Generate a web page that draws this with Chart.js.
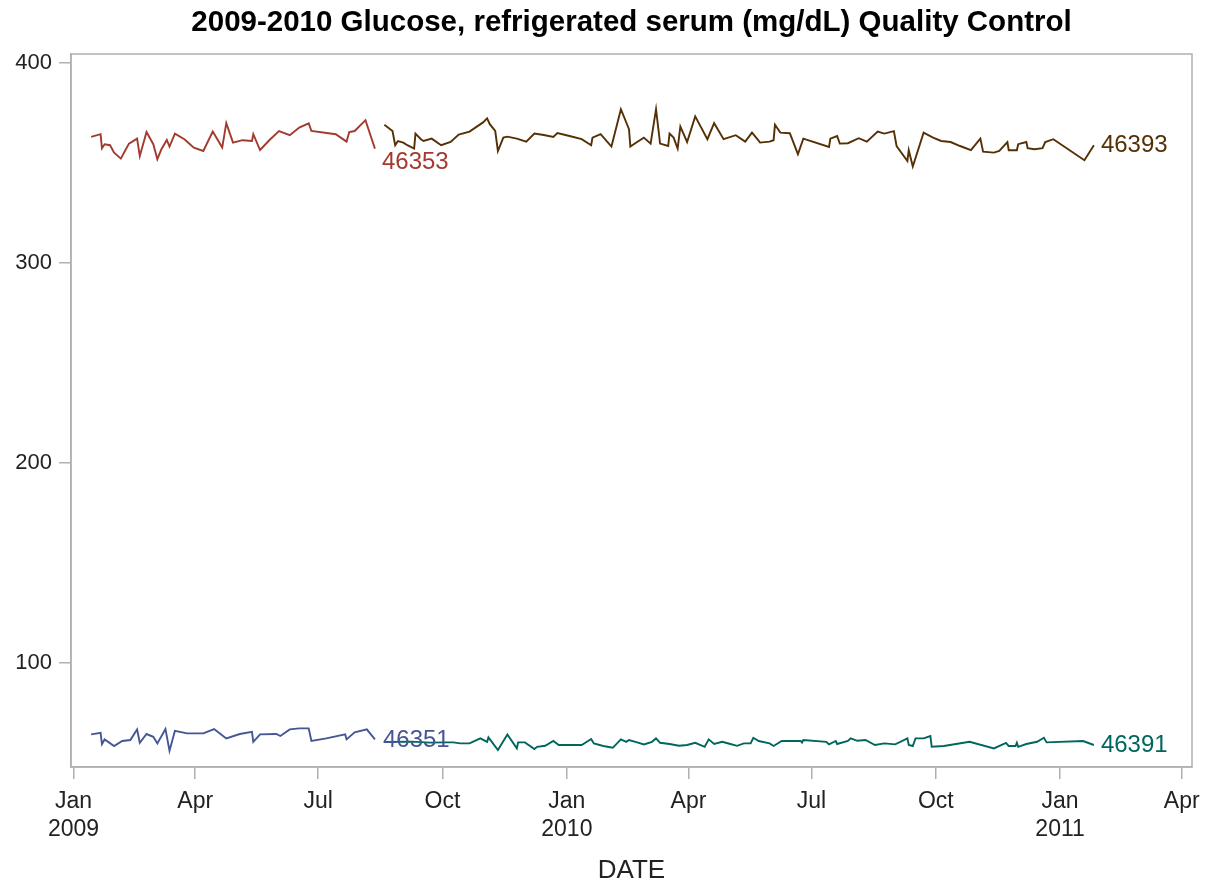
<!DOCTYPE html>
<html>
<head>
<meta charset="utf-8">
<script src="https://cdn.jsdelivr.net/npm/chart.js@4.4.1/dist/chart.umd.min.js"></script>
<style>
  html, body { margin: 0; padding: 0; background: #ffffff; }
  #wrap { width: 1211px; height: 886px; }
</style>
</head>
<body>
<div id="wrap"><canvas id="c" width="1211" height="886"></canvas></div>
<script>
// Day numbers are days since 2009-01-01
const chartTitle = '2009-2010 Glucose, refrigerated serum (mg/dL) Quality Control';
const xAxisTitle = 'DATE';

const tickDays   = [0, 90, 181, 273, 365, 455, 546, 638, 730, 820];
const tickLabels = [['Jan','2009'], 'Apr', 'Jul', 'Oct', ['Jan','2010'], 'Apr', 'Jul', 'Oct', ['Jan','2011'], 'Apr'];
const yTicks     = [100, 200, 300, 400];

const seriesNames = ['46351', '46353', '46391', '46393'];

const days46353 = [13,20,21,23,27,30,35,38,41,47,49,54,59,62,65,69,71,75,82,89,96,103,110,113,118,125,132,133,138,145,152,160,167,174,176,194,202,204,208,216,223];
const glucose46353 = [362.9,364.2,357.2,359.2,358.7,355.0,352.0,355.8,359.5,362.0,353.3,365.3,359.2,351.7,356.7,361.3,358.0,364.5,361.7,357.5,355.8,365.5,357.5,369.7,360.0,361.2,360.8,364.2,356.3,361.3,365.8,363.7,367.5,369.6,365.8,364.2,360.5,365.3,365.8,371.2,357.0];

const days46351 = [13,20,21,23,30,36,42,47,49,54,59,62,68,71,75,84,96,104,113,123,132,133,138,150,153,160,167,174,176,187,201,202,208,217,223];
const glucose46351 = [64.1,64.9,59.3,61.6,58.3,60.8,61.3,66.6,59.9,64.3,62.9,59.6,66.8,55.9,65.9,64.6,64.6,66.8,62.1,64.3,65.4,60.4,64.1,64.3,63.3,66.6,67.1,67.1,60.8,62.1,64.1,61.6,65.1,66.6,61.6];

const days46393 = [230,236,238,240,244,247,252,253,257,259,265,272,279,285,293,303,306,308,312,314,318,321,328,335,341,348,355,358,367,376,383,384,390,398,405,411,412,417,422,427,431,434,440,441,444,447,449,454,460,469,474,481,490,497,502,506,508,515,518,519,523,530,536,540,559,560,565,567,573,581,587,595,600,607,609,617,618,621,629,636,642,649,656,664,671,673,681,685,691,692,698,699,705,706,711,717,719,725,748,755];
const glucose46393 = [368.9,365.8,358.7,360.8,360.0,358.7,357.0,364.5,361.7,360.8,362.0,358.7,360.3,364.0,365.5,370.1,372.1,369.2,365.8,355.8,362.5,363.0,362.0,360.5,364.5,363.8,362.8,364.8,363.3,361.7,358.7,362.5,364.2,358.0,376.7,366.7,358.0,360.3,362.5,359.5,376.7,359.5,358.3,364.5,362.5,357.0,368.0,360.3,373.1,361.7,369.7,361.7,363.7,360.5,365.0,361.7,360.0,360.5,361.2,368.9,365.0,364.7,354.2,362.0,357.8,362.0,363.3,359.5,359.7,362.2,360.5,365.5,364.5,365.7,358.3,350.8,356.2,348.0,365.0,362.5,360.8,360.3,358.3,356.2,362.0,355.5,355.0,355.8,360.3,356.2,356.2,359.2,360.3,357.2,356.7,357.2,360.3,361.7,351.2,358.7];

const days46391 = [230,250,264,274,281,286,293,301,306,307,314,321,328,329,334,341,343,349,355,359,376,383,385,392,399,405,409,411,417,422,428,431,434,441,448,454,460,467,470,474,480,486,491,496,501,503,507,515,518,524,538,539,540,557,559,564,565,573,575,580,586,593,600,608,617,618,621,623,629,634,635,644,663,681,690,692,697,698,699,705,713,718,720,747,755];
const glucose46391 = [60.3,60.5,60.0,60.1,60.1,59.6,59.6,62.1,60.4,62.6,56.3,64.1,57.1,60.1,60.1,56.8,57.9,58.4,60.8,58.8,58.8,61.8,59.6,58.3,57.4,61.6,60.4,61.3,60.1,59.1,60.4,62.1,59.9,59.3,58.4,58.8,59.9,57.9,61.6,59.3,60.4,59.3,58.4,59.6,59.6,62.4,60.8,59.6,58.3,60.8,60.8,60.0,61.3,60.4,59.1,60.8,59.3,60.8,62.1,60.9,61.3,58.8,59.6,59.1,62.1,58.8,58.3,62.1,62.1,63.3,57.9,58.3,60.4,57.1,59.9,58.3,58.3,59.9,57.9,59.3,60.4,62.4,60.1,60.8,58.8];

// styles
const seriesColors = { '46351': '#445694', '46353': '#A23A2E', '46391': '#01665E', '46393': '#543005' };
const labelOffsets = { '46351': [8, 1], '46353': [7, 14], '46391': [7, 0], '46393': [7, 0] };
const FONT = "'Liberation Sans', Arial, sans-serif";

function toPoints(days, vals) { return days.map((d, i) => ({ x: d, y: vals[i] })); }
const seriesData = {
  '46351': toPoints(days46351, glucose46351),
  '46353': toPoints(days46353, glucose46353),
  '46391': toPoints(days46391, glucose46391),
  '46393': toPoints(days46393, glucose46393)
};

const datasets = seriesNames.map(name => ({
  label: name,
  data: seriesData[name],
  borderColor: seriesColors[name],
  backgroundColor: seriesColors[name],
  borderWidth: 1.9,
  pointRadius: 0,
  tension: 0,
  fill: false
}));

const frameAndLabels = {
  id: 'frameAndLabels',
  afterDatasetsDraw(chart) {
    const ctx = chart.ctx, a = chart.chartArea;
    ctx.save();
    ctx.strokeStyle = '#b0b0b0';
    ctx.lineWidth = 1.5;
    ctx.strokeRect(a.left, a.top, a.right - a.left, a.bottom - a.top);
    ctx.font = '24px ' + FONT;
    ctx.textAlign = 'left';
    ctx.textBaseline = 'middle';
    chart.data.datasets.forEach((ds, i) => {
      const meta = chart.getDatasetMeta(i);
      const last = meta.data[meta.data.length - 1];
      const off = labelOffsets[ds.label];
      ctx.fillStyle = seriesColors[ds.label];
      ctx.fillText(ds.label, last.x + off[0], last.y + off[1]);
    });
    ctx.restore();
  },
  afterDraw(chart) {
    const ctx = chart.ctx, a = chart.chartArea;
    ctx.save();
    ctx.font = 'bold 29.5px ' + FONT;
    ctx.fillStyle = '#000000';
    ctx.textAlign = 'center';
    ctx.textBaseline = 'middle';
    ctx.fillText(chartTitle, (a.left + a.right) / 2, 23);
    ctx.restore();
  }
};

new Chart(document.getElementById('c'), {
  type: 'line',
  data: { datasets },
  options: {
    responsive: false,
    animation: false,
    parsing: true,
    layout: { padding: { top: 54, right: 19, left: 0, bottom: 0 } },
    plugins: { legend: { display: false }, tooltip: { enabled: false }, title: { display: false } },
    scales: {
      x: {
        type: 'linear',
        min: -1.9,
        max: 827.6,
        afterBuildTicks: s => { s.ticks = tickDays.map(v => ({ value: v })); },
        afterFit: s => { s.height = 119; },
        ticks: {
          autoSkip: false, maxRotation: 0, minRotation: 0,
          padding: 9,
          color: '#222',
          font: { family: FONT, size: 23, lineHeight: 1.22 },
          callback: (v, i) => tickLabels[i]
        },
        grid: { drawOnChartArea: false, drawTicks: true, tickLength: 12, color: '#b0b0b0', lineWidth: 1.5 },
        border: { display: true, color: '#b0b0b0', width: 1.5 },
        title: { display: true, text: xAxisTitle, color: '#222', font: { family: FONT, size: 26 }, padding: { top: 2, bottom: 0 } }
      },
      y: {
        type: 'linear',
        min: 47.8,
        max: 404.3,
        afterBuildTicks: s => { s.ticks = yTicks.map(v => ({ value: v })); },
        afterFit: s => { s.width = 71; },
        ticks: { padding: 7, color: '#222', font: { family: FONT, size: 22 } },
        grid: { drawOnChartArea: false, drawTicks: true, tickLength: 12, color: '#b0b0b0', lineWidth: 1.5 },
        border: { display: true, color: '#b0b0b0', width: 1.5 }
      }
    }
  },
  plugins: [frameAndLabels]
});
</script>
</body>
</html>
